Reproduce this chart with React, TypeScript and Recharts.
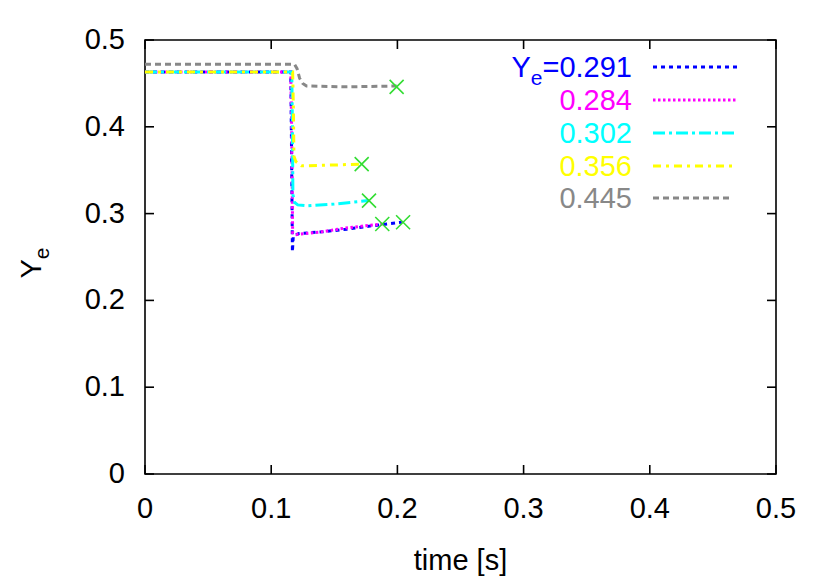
import React from "react";
import { ComposedChart, Line, Scatter, XAxis, YAxis, ReferenceArea } from "recharts";

// ---- data ----
const blueT = [0, 0.1155, 0.1162, 0.1168, 0.1175, 0.122, 0.14, 0.16, 0.18, 0.2035];
const blueY = [0.463, 0.463, 0.36, 0.256, 0.274, 0.277, 0.279, 0.282, 0.286, 0.29];
const magentaT = [0, 0.1155, 0.1162, 0.117, 0.12, 0.14, 0.157, 0.175, 0.188];
const magentaY = [0.463, 0.463, 0.4, 0.278, 0.276, 0.279, 0.283, 0.286, 0.288];
const cyanT = [0, 0.1163, 0.1168, 0.1172, 0.1185, 0.121, 0.128, 0.15, 0.1775];
const cyanY = [0.463, 0.463, 0.4, 0.322, 0.313, 0.31, 0.309, 0.311, 0.315];
const yellowT = [0, 0.117, 0.1176, 0.118, 0.1195, 0.124, 0.15, 0.1717];
const yellowY = [0.463, 0.463, 0.42, 0.366, 0.36, 0.355, 0.356, 0.357];
const grayT = [0, 0.1185, 0.1205, 0.1225, 0.125, 0.128, 0.16, 0.1994];
const grayY = [0.472, 0.472, 0.467, 0.456, 0.45, 0.447, 0.446, 0.447];

const endT = [0.2045, 0.188, 0.1775, 0.1717, 0.1994];
const endY = [0.29, 0.288, 0.315, 0.357, 0.446];

const legendLabels = ["0.291", "0.284", "0.302", "0.356", "0.445"];
const xTicks = [0, 0.1, 0.2, 0.3, 0.4, 0.5];
const yTicks = [0, 0.1, 0.2, 0.3, 0.4, 0.5];

const zip = (t: number[], y: number[]) => t.map((v, i) => ({ x: v, y: y[i] }));

const series = [
  { name: "blue", data: zip(blueT, blueY), color: "#0000ff", dash: "4 4" },
  { name: "magenta", data: zip(magentaT, magentaY), color: "#ff00ff", dash: "2.5 2.5" },
  { name: "cyan", data: zip(cyanT, cyanY), color: "#00ffff", dash: "12 4 3 4" },
  { name: "yellow", data: zip(yellowT, yellowY), color: "#ffff00", dash: "8 5 3 5" },
  { name: "gray", data: zip(grayT, grayY), color: "#888888", dash: "6 4" },
];
const ends = zip(endT, endY);

// ---- layout ----
const W = 830;
const H = 581;
const LEFT = 145;
const RIGHT = 776;
const TOP = 40;
const BOTTOM = 474;
const TICK = 9;
const FONT = "'Liberation Sans', Arial, Helvetica, sans-serif";
const FS = 29;

const XTick = (props: any) => {
  const { x, payload } = props;
  return (
    <g>
      <line x1={x} y1={BOTTOM} x2={x} y2={BOTTOM - TICK} stroke="#000" strokeWidth={1.6} />
      <line x1={x} y1={TOP} x2={x} y2={TOP + TICK} stroke="#000" strokeWidth={1.6} />
      <text x={x} y={BOTTOM + 44} textAnchor="middle" fontSize={FS} fontFamily={FONT} fill="#000">
        {String(payload.value)}
      </text>
    </g>
  );
};

const YTick = (props: any) => {
  const { y, payload } = props;
  return (
    <g>
      <line x1={LEFT} y1={y} x2={LEFT + TICK} y2={y} stroke="#000" strokeWidth={1.6} />
      <line x1={RIGHT} y1={y} x2={RIGHT - TICK} y2={y} stroke="#000" strokeWidth={1.6} />
      <text x={125} y={y + 9} textAnchor="end" fontSize={FS} fontFamily={FONT} fill="#000">
        {String(payload.value)}
      </text>
    </g>
  );
};

const Cross = (props: any) => {
  const { cx, cy } = props;
  const s = 7;
  return (
    <path
      d={`M${cx - s},${cy - s}L${cx + s},${cy + s}M${cx - s},${cy + s}L${cx + s},${cy - s}`}
      stroke="#33dd33"
      strokeWidth={1.6}
      fill="none"
    />
  );
};

const XLabel = () => (
  <text x={(LEFT + RIGHT) / 2} y={570} textAnchor="middle" fontSize={FS} fontFamily={FONT} fill="#000">
    time [s]
  </text>
);

const YLabel = () => (
  <text
    x={41}
    y={263}
    transform="rotate(-90, 41, 263)"
    textAnchor="middle"
    fontSize={FS}
    fontFamily={FONT}
    fill="#000"
  >
    Y
    <tspan fontSize={21} dy={8}>e</tspan>
  </text>
);

const LegendOverlay = () => {
  const rowY = [67, 100, 133, 166, 198];
  return (
    <svg
      width={W}
      height={H}
      style={{ position: "absolute", left: 0, top: 0, pointerEvents: "none" }}
    >
      {series.map((s, i) => (
        <g key={s.name}>
          <text
            x={632}
            y={rowY[i] + 10}
            textAnchor="end"
            fontSize={FS}
            fontFamily={FONT}
            fill={s.color}
          >
            {i === 0 ? (
              <>
                Y<tspan fontSize={21} dy={8}>e</tspan>
                <tspan dy={-8}>={legendLabels[i]}</tspan>
              </>
            ) : (
              legendLabels[i]
            )}
          </text>
          <line
            x1={653}
            y1={rowY[i]}
            x2={i === 4 ? 729 : 737}
            y2={rowY[i]}
            stroke={s.color}
            strokeWidth={3}
            strokeDasharray={s.dash}
          />
        </g>
      ))}
    </svg>
  );
};

export default function App() {
  return (
    <div style={{ position: "absolute", left: 0, top: 0, width: W, height: H, background: "#fff" }}>
      <ComposedChart
        width={W}
        height={H}
        margin={{ top: TOP, right: W - RIGHT, bottom: 0, left: 0 }}
      >
        <XAxis
          dataKey="x"
          type="number"
          domain={[0, 0.5]}
          ticks={xTicks}
          allowDataOverflow
          height={H - BOTTOM}
          axisLine={false}
          tickLine={false}
          tickSize={0}
          tick={<XTick />}
          label={<XLabel />}
        />
        <YAxis
          dataKey="y"
          type="number"
          domain={[0, 0.5]}
          ticks={yTicks}
          allowDataOverflow
          width={LEFT}
          axisLine={false}
          tickLine={false}
          tickSize={0}
          tick={<YTick />}
          label={<YLabel />}
        />
        <ReferenceArea x1={0} x2={0.5} y1={0} y2={0.5} fill="none" stroke="#000" strokeWidth={1.6} fillOpacity={0} />
        {series.map((s) => (
          <Line
            key={s.name}
            data={s.data}
            dataKey="y"
            type="linear"
            stroke={s.color}
            strokeWidth={3}
            strokeDasharray={s.dash}
            dot={false}
            activeDot={false}
            isAnimationActive={false}
            legendType="none"
          />
        ))}
        <Scatter data={ends} dataKey="y" shape={<Cross />} isAnimationActive={false} />
      </ComposedChart>
      <LegendOverlay />
    </div>
  );
}
